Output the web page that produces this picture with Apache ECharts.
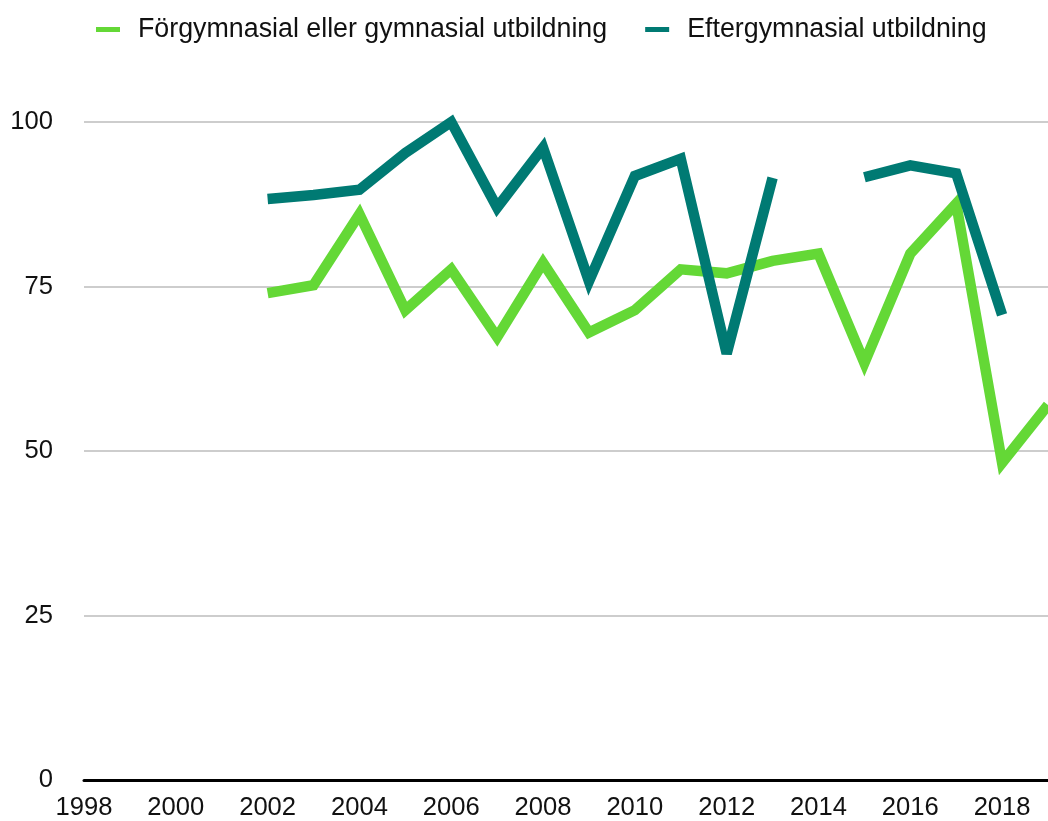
<!DOCTYPE html>
<html>
<head>
<meta charset="utf-8">
<script src="https://cdn.jsdelivr.net/npm/echarts@6/dist/echarts.min.js"></script>
<style>
  html, body { margin: 0; padding: 0; background: #fff; }
  #chart { width: 1048px; height: 821px; }
</style>
</head>
<body>
<div id="chart"></div>
<script>
const years = ['1998', '1999', '2000', '2001', '2002', '2003', '2004', '2005', '2006', '2007', '2008',
    '2009', '2010', '2011', '2012', '2013', '2014', '2015', '2016', '2017', '2018', '2019'];
const seriesNames = ['Förgymnasial eller gymnasial utbildning', 'Eftergymnasial utbildning'];
const forgymnasial = [null, null, null, null, 74, 75.2, 86, 71.4, 77.6, 67.3, 78.6,
    68, 71.4, 77.6, 77, 78.9, 80, 63.4, 80, 87.6, 48.2, 57];
const eftergymnasial = [null, null, null, null, 88.3, 88.9, 89.7, 95.3, 100, 87, 96.1,
    75.8, 91.8, 94.4, 64.8, 91.5, null, 91.6, 93.4, 92.2, 70.7, null];
const yTicks = [0, 25, 50, 75, 100];

document.addEventListener('DOMContentLoaded', function () {
    const chart = echarts.init(document.getElementById('chart'));
    const font = '"Liberation Sans", Arial, Helvetica, sans-serif';
    const green = '#64d836';
    const teal = '#007a73';

    const option = {
        animation: false,
        textStyle: { fontFamily: font },
        legend: {
            left: 91,
            top: 11,
            icon: 'rect',
            itemWidth: 24,
            itemHeight: 5,
            itemGap: 38,
            textStyle: {
                fontFamily: font,
                fontSize: 26.8,
                color: '#111',
                padding: [0, 0, 0, 13]
            },
            data: seriesNames
        },
        grid: {
            left: 84,
            right: -1,
            top: 122,
            bottom: 41,
            containLabel: false
        },
        xAxis: {
            type: 'category',
            boundaryGap: false,
            data: years,
            axisLine: { lineStyle: { color: '#000', width: 3 } },
            axisTick: { show: false },
            axisLabel: {
                interval: 1,
                margin: 15,
                fontSize: 25.6,
                color: '#111',
                fontFamily: font
            },
            splitLine: { show: false }
        },
        yAxis: {
            type: 'value',
            min: yTicks[0],
            max: yTicks[yTicks.length - 1],
            interval: 25,
            axisLine: { show: false },
            axisTick: { show: false },
            axisLabel: {
                margin: 31,
                fontSize: 25.6,
                color: '#111',
                fontFamily: font
            },
            splitLine: { lineStyle: { color: '#bdbdbd', width: 1.5 } }
        },
        series: [
            {
                name: seriesNames[0],
                type: 'line',
                data: forgymnasial,
                showSymbol: false,
                symbol: 'none',
                clip: false,
                connectNulls: false,
                itemStyle: { color: green },
                lineStyle: { color: green, width: 10.5, join: 'miter', miterLimit: 3.5, cap: 'butt' }
            },
            {
                name: seriesNames[1],
                type: 'line',
                data: eftergymnasial,
                showSymbol: false,
                symbol: 'none',
                clip: false,
                connectNulls: false,
                itemStyle: { color: teal },
                lineStyle: { color: teal, width: 10.5, join: 'miter', miterLimit: 3.5, cap: 'butt' }
            }
        ]
    };
    chart.setOption(option);
});
</script>
</body>
</html>
